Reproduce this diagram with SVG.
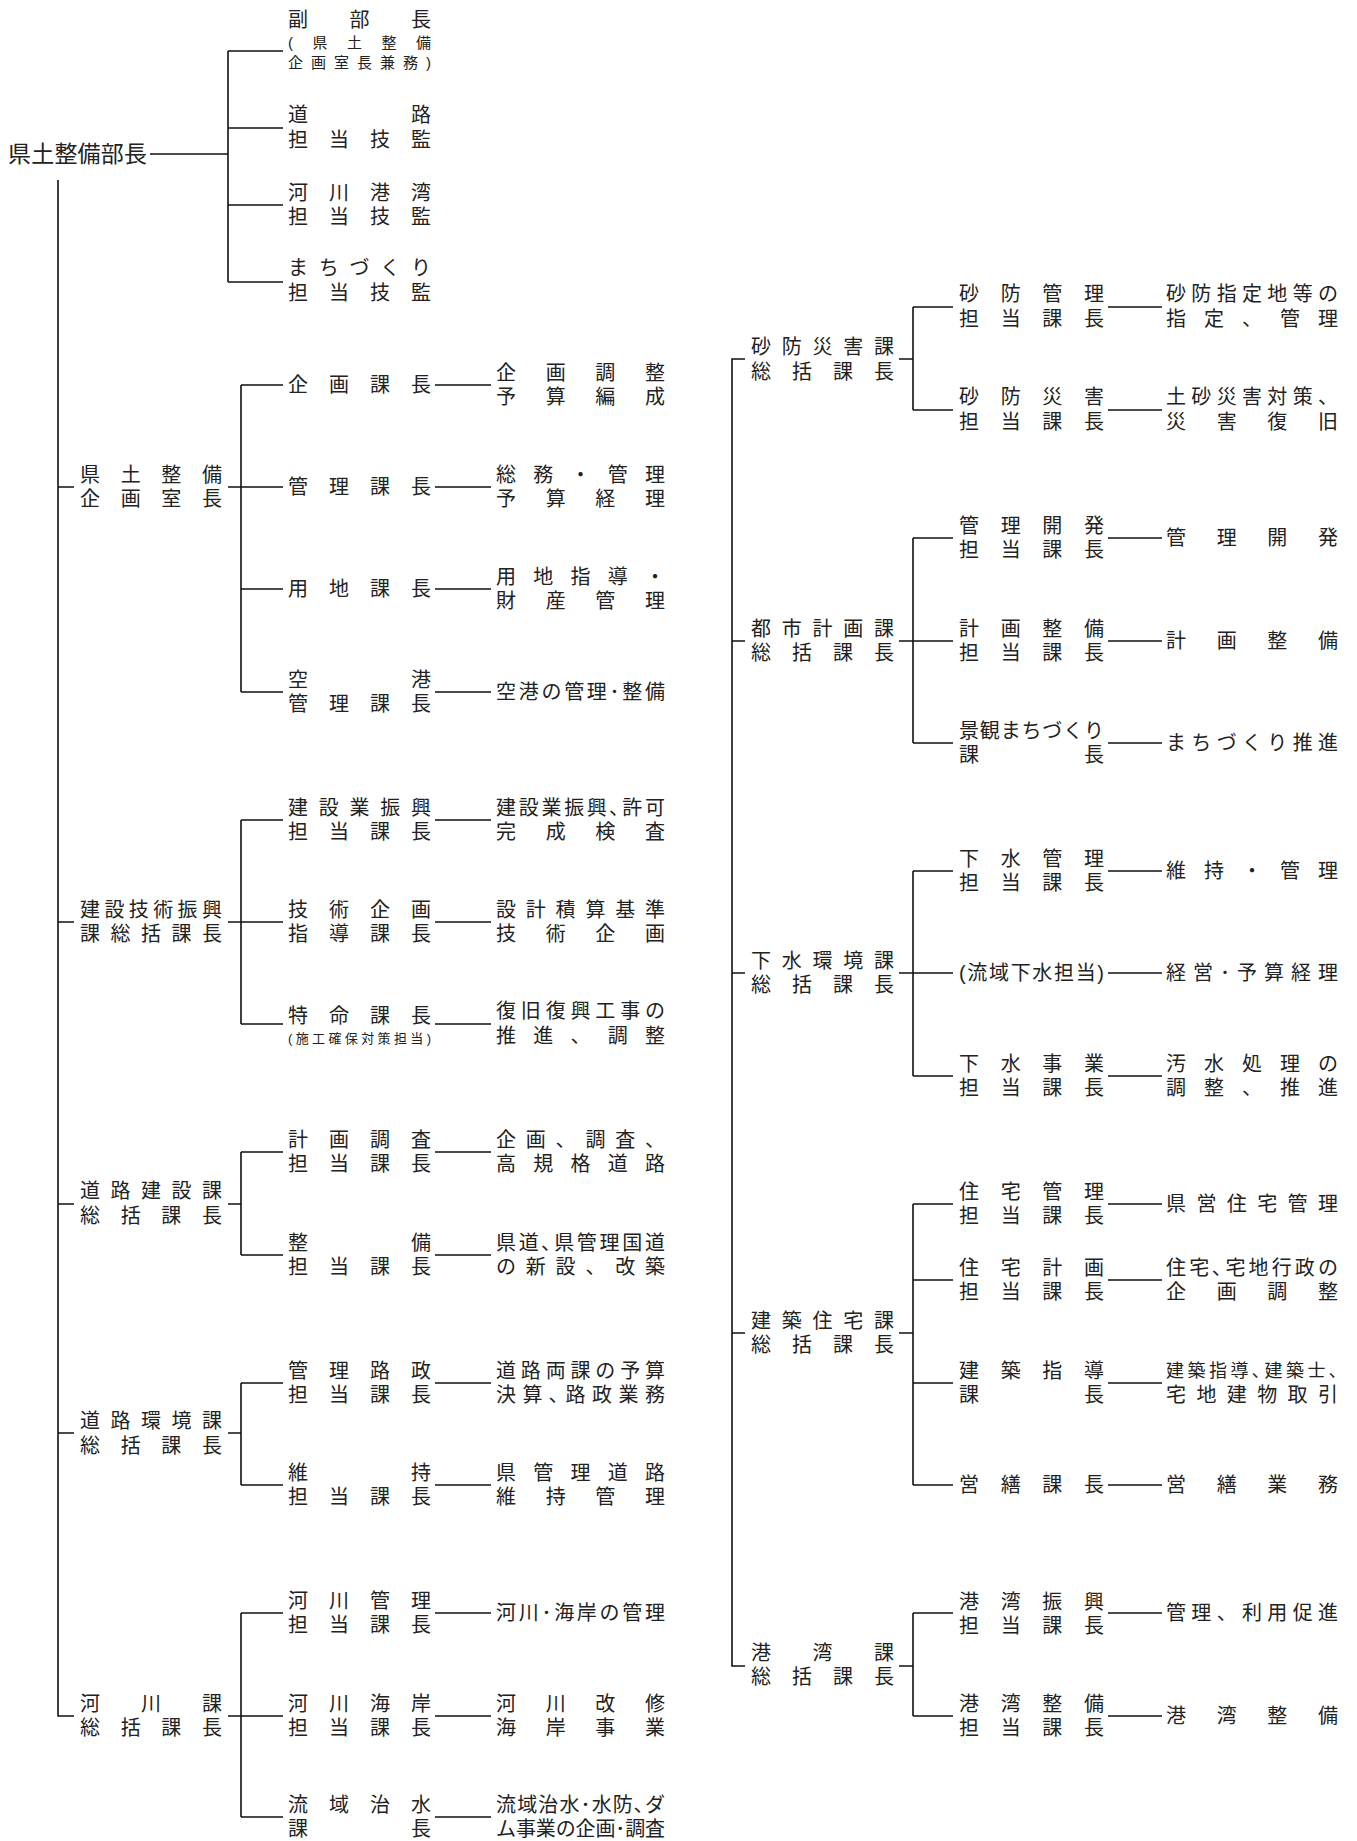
<svg xmlns="http://www.w3.org/2000/svg" width="1357" height="1841" viewBox="0 0 1357 1841">
<style>
text { font-family: "Liberation Sans", "Noto Sans CJK JP", sans-serif; font-size: 20px; fill: #222; dominant-baseline: central; }
.big { font-size: 23px; }
.sm { font-size: 15px; }
.xs { font-size: 13px; }
.d9 { font-size: 18px; }
.ln { stroke: #111; stroke-width: 1.6; fill: none; }
</style>
<rect width="1357" height="1841" fill="#fff"/>
<g id="connectors" class="ln">
<path d="M150 154H228M228 51V282M228 51H283M228 128H283M228 205H283M228 282H283"/>
<path d="M58 180V1716H74M58 487H74M58 922H74M58 1204H74M58 1433H74"/>
<path d="M228 487H241M228 922H241M228 1204H241M228 1433H241M228 1716H241"/>
<path d="M241 385V692M241 820V1024M241 1152V1255M241 1383V1485M241 1613V1817"/>
<path d="M241 385H283M241 487H283M241 589H283M241 692H283M241 820H283M241 922H283M241 1024H283M241 1152H283M241 1255H283M241 1383H283M241 1485H283M241 1613H283M241 1716H283M241 1817H283"/>
<path d="M435 385H491M435 487H491M435 589H491M435 692H491M435 820H491M435 922H491M435 1024H491M435 1152H491M435 1255H491M435 1383H491M435 1485H491M435 1613H491M435 1716H491M435 1817H491"/>
<path d="M745 359H732V1666H745M732 641H745M732 973H745M732 1333H745"/>
<path d="M899 359H913M899 641H913M899 973H913M899 1333H913M899 1666H913"/>
<path d="M913 307V410M913 538V743M913 871V1076M913 1204V1485M913 1613V1716"/>
<path d="M913 307H953M913 410H953M913 538H953M913 641H953M913 743H953M913 871H953M913 973H953M913 1076H953M913 1204H953M913 1280H953M913 1383H953M913 1485H953M913 1613H953M913 1716H953"/>
<path d="M1108 307H1162M1108 410H1162M1108 538H1162M1108 641H1162M1108 743H1162M1108 871H1162M1108 973H1162M1108 1076H1162M1108 1204H1162M1108 1280H1162M1108 1383H1162M1108 1485H1162M1108 1613H1162M1108 1716H1162"/>
</g>
<g id="n-bucho"><text class="big" x="8" y="154" textLength="139">県土整備部長</text></g>
<g id="n-fukubucho"><text x="288" y="20" textLength="143">副部長</text><text class="sm" x="288" y="42" textLength="143">(県土整備</text><text class="sm" x="288" y="62" textLength="143">企画室長兼務)</text></g>
<g id="n-doro-gikan"><text x="288" y="115" textLength="143">道路</text><text x="288" y="140" textLength="143">担当技監</text></g>
<g id="n-kasenkowan-gikan"><text x="288" y="193" textLength="143">河川港湾</text><text x="288" y="217" textLength="143">担当技監</text></g>
<g id="n-machi-gikan"><text x="288" y="268" textLength="143">まちづくり</text><text x="288" y="293" textLength="143">担当技監</text></g>

<g id="n-kikakushitsu"><text x="80" y="475" textLength="142">県土整備</text><text x="80" y="499" textLength="142">企画室長</text></g>
<g id="n-kikaku"><text x="288" y="385" textLength="143">企画課長</text></g>
<g id="d-kikaku"><text x="496" y="373" textLength="169">企画調整</text><text x="496" y="397" textLength="169">予算編成</text></g>
<g id="n-kanri"><text x="288" y="487" textLength="143">管理課長</text></g>
<g id="d-kanri"><text x="496" y="475" textLength="169">総務・管理</text><text x="496" y="499" textLength="169">予算経理</text></g>
<g id="n-yochi"><text x="288" y="589" textLength="143">用地課長</text></g>
<g id="d-yochi"><text x="496" y="577" textLength="169">用地指導・</text><text x="496" y="601" textLength="169">財産管理</text></g>
<g id="n-kuko"><text x="288" y="680" textLength="143">空港</text><text x="288" y="704" textLength="143">管理課長</text></g>
<g id="d-kuko"><text x="496" y="692" textLength="169">空港の管理･整備</text></g>

<g id="n-kengi"><text x="80" y="910" textLength="142">建設技術振興</text><text x="80" y="934" textLength="142">課総括課長</text></g>
<g id="n-kensetsugyo"><text x="288" y="808" textLength="143">建設業振興</text><text x="288" y="832" textLength="143">担当課長</text></g>
<g id="d-kensetsugyo"><text x="496" y="808" textLength="169">建設業振興､許可</text><text x="496" y="832" textLength="169">完成検査</text></g>
<g id="n-gijutsu"><text x="288" y="910" textLength="143">技術企画</text><text x="288" y="934" textLength="143">指導課長</text></g>
<g id="d-gijutsu"><text x="496" y="910" textLength="169">設計積算基準</text><text x="496" y="934" textLength="169">技術企画</text></g>
<g id="n-tokumei"><text x="288" y="1016" textLength="143">特命課長</text><text class="xs" x="288" y="1038" textLength="143">(施工確保対策担当)</text></g>
<g id="d-tokumei"><text x="496" y="1011" textLength="169">復旧復興工事の</text><text x="496" y="1036" textLength="169">推進、調整</text></g>

<g id="n-dorokensetsu"><text x="80" y="1191" textLength="142">道路建設課</text><text x="80" y="1216" textLength="142">総括課長</text></g>
<g id="n-keikakuchosa"><text x="288" y="1140" textLength="143">計画調査</text><text x="288" y="1164" textLength="143">担当課長</text></g>
<g id="d-keikakuchosa"><text x="496" y="1140" textLength="169">企画、調査、</text><text x="496" y="1164" textLength="169">高規格道路</text></g>
<g id="n-seibi"><text x="288" y="1243" textLength="143">整備</text><text x="288" y="1267" textLength="143">担当課長</text></g>
<g id="d-seibi"><text x="496" y="1243" textLength="169">県道､県管理国道</text><text x="496" y="1267" textLength="169">の新設、改築</text></g>

<g id="n-dorokankyo"><text x="80" y="1421" textLength="142">道路環境課</text><text x="80" y="1446" textLength="142">総括課長</text></g>
<g id="n-kanriro"><text x="288" y="1371" textLength="143">管理路政</text><text x="288" y="1395" textLength="143">担当課長</text></g>
<g id="d-kanriro"><text x="496" y="1371" textLength="169">道路両課の予算</text><text x="496" y="1395" textLength="169">決算､路政業務</text></g>
<g id="n-iji"><text x="288" y="1473" textLength="143">維持</text><text x="288" y="1497" textLength="143">担当課長</text></g>
<g id="d-iji"><text x="496" y="1473" textLength="169">県管理道路</text><text x="496" y="1497" textLength="169">維持管理</text></g>

<g id="n-kasen"><text x="80" y="1704" textLength="142">河川課</text><text x="80" y="1728" textLength="142">総括課長</text></g>
<g id="n-kasenkanri"><text x="288" y="1601" textLength="143">河川管理</text><text x="288" y="1625" textLength="143">担当課長</text></g>
<g id="d-kasenkanri"><text x="496" y="1613" textLength="169">河川･海岸の管理</text></g>
<g id="n-kasenkaigan"><text x="288" y="1704" textLength="143">河川海岸</text><text x="288" y="1728" textLength="143">担当課長</text></g>
<g id="d-kasenkaigan"><text x="496" y="1704" textLength="169">河川改修</text><text x="496" y="1728" textLength="169">海岸事業</text></g>
<g id="n-ryuiki"><text x="288" y="1805" textLength="143">流域治水</text><text x="288" y="1829" textLength="143">課長</text></g>
<g id="d-ryuiki"><text x="496" y="1805" textLength="169">流域治水･水防､ダ</text><text x="496" y="1829" textLength="169">ム事業の企画･調査</text></g>

<g id="n-sabo"><text x="751" y="347" textLength="143">砂防災害課</text><text x="751" y="372" textLength="143">総括課長</text></g>
<g id="n-sabokanri"><text x="959" y="294" textLength="145">砂防管理</text><text x="959" y="319" textLength="145">担当課長</text></g>
<g id="d-sabokanri"><text x="1166" y="294" textLength="172">砂防指定地等の</text><text x="1166" y="319" textLength="172">指定、管理</text></g>
<g id="n-sabosaigai"><text x="959" y="397" textLength="145">砂防災害</text><text x="959" y="422" textLength="145">担当課長</text></g>
<g id="d-sabosaigai"><text x="1166" y="397" textLength="172">土砂災害対策、</text><text x="1166" y="422" textLength="172">災害復旧</text></g>

<g id="n-toshi"><text x="751" y="629" textLength="143">都市計画課</text><text x="751" y="653" textLength="143">総括課長</text></g>
<g id="n-kanrikaihatsu"><text x="959" y="526" textLength="145">管理開発</text><text x="959" y="550" textLength="145">担当課長</text></g>
<g id="d-kanrikaihatsu"><text x="1166" y="538" textLength="172">管理開発</text></g>
<g id="n-keikakuseibi"><text x="959" y="629" textLength="145">計画整備</text><text x="959" y="653" textLength="145">担当課長</text></g>
<g id="d-keikakuseibi"><text x="1166" y="641" textLength="172">計画整備</text></g>
<g id="n-keikan"><text x="959" y="731" textLength="145">景観まちづくり</text><text x="959" y="755" textLength="145">課長</text></g>
<g id="d-keikan"><text x="1166" y="743" textLength="172">まちづくり推進</text></g>

<g id="n-gesui"><text x="751" y="961" textLength="143">下水環境課</text><text x="751" y="985" textLength="143">総括課長</text></g>
<g id="n-gesuikanri"><text x="959" y="859" textLength="145">下水管理</text><text x="959" y="883" textLength="145">担当課長</text></g>
<g id="d-gesuikanri"><text x="1166" y="871" textLength="172">維持・管理</text></g>
<g id="n-ryuikigesui"><text x="959" y="973" textLength="145">(流域下水担当)</text></g>
<g id="d-ryuikigesui"><text x="1166" y="973" textLength="172">経営･予算経理</text></g>
<g id="n-gesuijigyo"><text x="959" y="1064" textLength="145">下水事業</text><text x="959" y="1088" textLength="145">担当課長</text></g>
<g id="d-gesuijigyo"><text x="1166" y="1064" textLength="172">汚水処理の</text><text x="1166" y="1088" textLength="172">調整、推進</text></g>

<g id="n-kenchiku"><text x="751" y="1321" textLength="143">建築住宅課</text><text x="751" y="1345" textLength="143">総括課長</text></g>
<g id="n-jutakukanri"><text x="959" y="1192" textLength="145">住宅管理</text><text x="959" y="1216" textLength="145">担当課長</text></g>
<g id="d-jutakukanri"><text x="1166" y="1204" textLength="172">県営住宅管理</text></g>
<g id="n-jutakukeikaku"><text x="959" y="1268" textLength="145">住宅計画</text><text x="959" y="1292" textLength="145">担当課長</text></g>
<g id="d-jutakukeikaku"><text x="1166" y="1268" textLength="172">住宅､宅地行政の</text><text x="1166" y="1292" textLength="172">企画調整</text></g>
<g id="n-kenchikushido"><text x="959" y="1371" textLength="145">建築指導</text><text x="959" y="1395" textLength="145">課長</text></g>
<g id="d-kenchikushido"><text class="d9" x="1166" y="1371" textLength="172">建築指導､建築士､</text><text x="1166" y="1395" textLength="172">宅地建物取引</text></g>
<g id="n-eizen"><text x="959" y="1485" textLength="145">営繕課長</text></g>
<g id="d-eizen"><text x="1166" y="1485" textLength="172">営繕業務</text></g>

<g id="n-kowan"><text x="751" y="1653" textLength="143">港湾課</text><text x="751" y="1677" textLength="143">総括課長</text></g>
<g id="n-kowanshinko"><text x="959" y="1602" textLength="145">港湾振興</text><text x="959" y="1626" textLength="145">担当課長</text></g>
<g id="d-kowanshinko"><text x="1166" y="1613" textLength="172">管理、利用促進</text></g>
<g id="n-kowanseibi"><text x="959" y="1704" textLength="145">港湾整備</text><text x="959" y="1728" textLength="145">担当課長</text></g>
<g id="d-kowanseibi"><text x="1166" y="1716" textLength="172">港湾整備</text></g>
</svg>
